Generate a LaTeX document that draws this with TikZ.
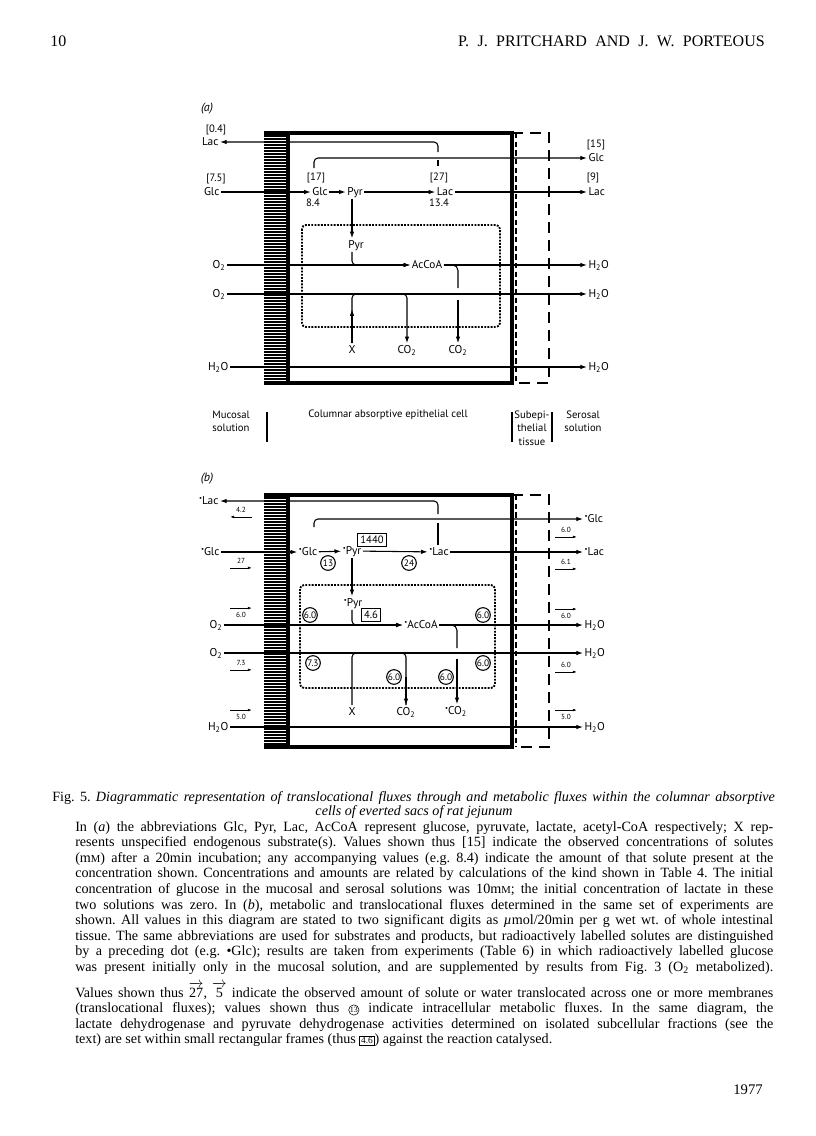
\documentclass[tikz,border=0pt]{standalone}
\usepackage{fontspec}
\usepackage{amsmath}
\setmainfont{Liberation Serif}
\newfontfamily\diafont{PT Sans}
\usetikzlibrary{arrows.meta}
\frenchspacing

\newcommand{\lbld}{\raisebox{.55ex}{\fontsize{5}{5}\selectfont\textbullet}}
\newcommand{\smM}{{\fontsize{8}{8}\selectfont M}}
\newlength{\capw}\setlength{\capw}{523.5pt}
\newcommand{\spreadline}[1]{\makebox[\capw][s]{#1}}
\newcommand{\circnum}[1]{\tikz[baseline=(cn.base)]\node[circle,draw,line width=0.4pt,inner sep=0.2pt,font=\fontsize{6}{6}\selectfont](cn){#1};}
\newcommand{\boxnum}[1]{{\fboxsep=0.8pt\fboxrule=0.5pt\fbox{\fontsize{7}{7}\selectfont #1}}}

\begin{document}
\begin{tikzpicture}[
  x=0.75pt, y=-0.75pt,
  % membranes
  memb/.style={line width=2.6pt},
  hatch/.style={line width=0.95pt},
  lamina/.style={line width=1.6pt, dash pattern=on 4pt off 2.5pt},
  serosa/.style={line width=1.9pt, dash pattern=on 8pt off 5.5pt},
  mito/.style={line width=1.4pt, densely dotted, rounded corners=3pt},
  divider/.style={line width=1.1pt},
  % labels
  lbl/.style={font=\diafont\fontsize{8.5}{9}\selectfont, inner sep=1pt,
              text height=6.2pt, text depth=1.6pt},
  conc/.style={font=\diafont\fontsize{8}{9}\selectfont, inner sep=0pt},
  pnl/.style={font=\diafont\itshape\fontsize{9}{10}\selectfont, inner sep=0pt},
  reg/.style={font=\diafont\fontsize{8}{10}\selectfont, align=center, inner sep=0pt},
  % fluxes
  flux/.style={draw, line width=0.8pt, -{Latex[length=5pt,width=3.4pt]}},
  link/.style={draw, line width=0.8pt},
  tnum/.style={font=\diafont\fontsize{5.5}{6}\selectfont, inner sep=0pt,
               minimum width=16pt},
  tflux/.style={line width=0.5pt, -{Latex[length=3pt,width=2pt]}},
  circ/.style={circle, draw, line width=0.8pt, inner sep=0pt, minimum size=11pt,
               font=\diafont\fontsize{7}{7}\selectfont},
  frm/.style={draw, line width=0.8pt, inner sep=2pt,
              font=\diafont\fontsize{8}{8}\selectfont},
  % page text
  captxt/.style={font=\fontsize{10.6}{11.7}\selectfont, inner sep=0pt, anchor=base west},
  rhead/.style={font=\fontsize{12}{14}\selectfont, inner sep=0pt},
]

\path[fill=white, use as bounding box] (0,0) rectangle (816,1136);

% ── Running head ─────────────────────────────────────────────────────────
\node[rhead, anchor=base west] (pgNo) at (50,46) {10};
\node[rhead, anchor=base east] (runHead) at (765,46)
  {\makebox[230pt][s]{P. J. PRITCHARD AND J. W. PORTEOUS}};

% ── Cell frames (a) and (b) ──────────────────────────────────────────────
\foreach \yt/\yb in {133/383, 495/747} {
  \foreach \k in {1,...,83}
    \draw[hatch] (264,{\yt+3*\k}) -- (286,{\yt+3*\k});
  \draw[memb] (264,\yt) -- (512,\yt) -- (512,\yb) -- (264,\yb);
  \draw[memb, line width=3.2pt] (288,\yt) -- (288,\yb);
  \draw[lamina] (516,\yt) -- (516,\yb);
  \draw[serosa] (512,\yt) -- (549,\yt) -- (549,\yb) -- (512,\yb);
}
\draw[mito] (302,225) rectangle (500,327);
\draw[mito] (300,585) rectangle (495,688);

% ━━━━━━━━━━━━━━━━━━━━━━━━━━━━━━━━━━━━━━━━━━━━━━━━━━━━━━━━━━━━━━━━━━━━━━━
% (a) Concentrations and amounts
% ━━━━━━━━━━━━━━━━━━━━━━━━━━━━━━━━━━━━━━━━━━━━━━━━━━━━━━━━━━━━━━━━━━━━━━━
\node[pnl] (aTag) at (207,109) {(a)};

% mucosal side
\node[conc] (aC04) at (216,130) {[0.4]};
\node[lbl, anchor=east] (aLacM) at (220,142) {Lac};
\node[conc] (aC75) at (216,179) {[7.5]};
\node[lbl, anchor=east] (aGlcM) at (221,192) {Glc};
\node[lbl, anchor=east] (aO2a) at (227,265) {O\textsubscript{2}};
\node[lbl, anchor=east] (aO2b) at (227,294) {O\textsubscript{2}};
\node[lbl, anchor=east] (aH2Oc) at (230,367) {H\textsubscript{2}O};

% cell
\node[conc] (aC17) at (316,178) {[17]};
\node[lbl] (aGlc) at (320,192) {Glc};
\node[conc] (aA84) at (313,203) {8.4};
\node[lbl] (aPyr) at (355,192) {Pyr};
\node[conc] (aC27) at (439,178) {[27]};
\node[lbl] (aLac) at (445,192) {Lac};
\node[conc] (aA134) at (439,203) {13.4};
\node[lbl] (aPyr2) at (356,245) {Pyr};
\node[lbl] (aAcCoA) at (427,265) {AcCoA};
\node[lbl] (aX) at (352,350) {X};
\node[lbl] (aCO2a) at (407,350) {CO\textsubscript{2}};
\node[lbl] (aCO2b) at (458,350) {CO\textsubscript{2}};

% serosal side
\node[conc] (aC15) at (596,145) {[15]};
\node[lbl, anchor=west] (aGlcS) at (587,158) {Glc};
\node[conc] (aC9) at (593,178) {[9]};
\node[lbl, anchor=west] (aLacS) at (587,192) {Lac};
\node[lbl, anchor=west] (aH2Oa) at (587,265) {H\textsubscript{2}O};
\node[lbl, anchor=west] (aH2Ob) at (587,294) {H\textsubscript{2}O};
\node[lbl, anchor=west] (aH2Od) at (587,367) {H\textsubscript{2}O};

% fluxes
\coordinate (aLacUp) at (438,152);
\coordinate (aTick)  at (438,160);
\coordinate (aGlcUp) at (314,168);
\coordinate (aGapT)  at (458,288);
\coordinate (aGapB)  at (458,300);
\draw[flux, rounded corners=3pt] (aLacUp) |- (aLacM);
\draw[link] (aTick) -- ++(0,6);
\draw[flux, rounded corners=3pt] (aGlcUp) |- (aGlcS);
\draw[flux] (aGlcM) -- (aGlc);
\draw[flux] (aGlc) -- (aPyr);
\draw[flux] (aPyr) -- (aLac);
\draw[flux] (aLac) -- (aLacS);
\draw[flux] (aX |- aPyr.south) -- (aX |- aPyr2.north);
\draw[flux, rounded corners=3pt] (aX |- aPyr2.south) |- (aAcCoA);
\draw[flux] (aO2a) -- (aAcCoA);
\draw[flux] (aAcCoA) -- (aH2Oa);
\draw[link, rounded corners=4pt] (aAcCoA.east) -| (aGapT);
\draw[flux] (aGapB) -- (aCO2b);
\draw[flux] (aO2b) -- (aH2Ob);
\draw[flux, rounded corners=3pt] (aX) |- (aCO2a |- aO2b) -- (aCO2a);
\draw[flux] (aX.north) -- ++(0,-34);
\draw[flux] (aH2Oc) -- (aH2Od);

% compartments
\node[reg] (aMuc) at (231,421) {Mucosal\\solution};
\node[reg] (aCol) at (388,415) {Columnar absorptive epithelial cell};
\node[reg] (aSub) at (532,428) {Subepi-\\thelial\\tissue};
\node[reg] (aSer) at (583,421) {Serosal\\solution};
\draw[divider] (267,412) -- (267,442);
\draw[divider] (512,412) -- (512,442);
\draw[divider] (552,412) -- (552,442);

% ━━━━━━━━━━━━━━━━━━━━━━━━━━━━━━━━━━━━━━━━━━━━━━━━━━━━━━━━━━━━━━━━━━━━━━━
% (b) Metabolic and translocational fluxes
% ━━━━━━━━━━━━━━━━━━━━━━━━━━━━━━━━━━━━━━━━━━━━━━━━━━━━━━━━━━━━━━━━━━━━━━━
\node[pnl] (bTag) at (207,479) {(b)};

% mucosal side
\node[lbl, anchor=east] (bLacM) at (220,501) {\lbld Lac};
\node[tnum] (bT42) at (241,510) {4.2};
\node[lbl, anchor=east] (bGlcM) at (221,552) {\lbld Glc};
\node[tnum] (bT27) at (241,561) {27};
\node[tnum] (bT60a) at (241,615) {6.0};
\node[lbl, anchor=east] (bO2a) at (224,625) {O\textsubscript{2}};
\node[lbl, anchor=east] (bO2b) at (224,653) {O\textsubscript{2}};
\node[tnum] (bT73) at (241,663) {7.3};
\node[tnum] (bT50a) at (241,717) {5.0};
\node[lbl, anchor=east] (bH2Oc) at (230,727) {H\textsubscript{2}O};

% cell
\node[lbl] (bGlc) at (308,552) {\lbld Glc};
\node[lbl] (bPyr) at (352,551) {\lbld Pyr};
\node[frm] (bF1440) at (372,540) {1440};
\node[circ] (bM13) at (328,563) {13};
\node[lbl] (bLac) at (439,552) {\lbld Lac};
\node[circ] (bM24) at (409,563) {24};
\node[lbl] (bPyr2) at (353,603) {\lbld Pyr};
\node[frm] (bF46) at (371,615) {4.6};
\node[circ] (bM60a) at (310,615) {6.0};
\node[circ] (bM60b) at (483,615) {6.0};
\node[lbl] (bAcCoA) at (421,625) {\lbld AcCoA};
\node[circ] (bM73) at (313,663) {7.3};
\node[circ] (bM60c) at (483,663) {6.0};
\node[circ] (bM60d) at (394,677) {6.0};
\node[circ] (bM60e) at (446,677) {6.0};
\node[lbl] (bX) at (352,712) {X};
\node[lbl] (bCO2a) at (406,712) {CO\textsubscript{2}};
\node[lbl] (bCO2b) at (456,711) {\lbld CO\textsubscript{2}};

% serosal side
\node[lbl, anchor=west] (bGlcS) at (583,519) {\lbld Glc};
\node[tnum] (bT60b) at (566,530) {6.0};
\node[lbl, anchor=west] (bLacS) at (583,552) {\lbld Lac};
\node[tnum] (bT61) at (566,562) {6.1};
\node[tnum] (bT60c) at (566,616) {6.0};
\node[lbl, anchor=west] (bH2Oa) at (583,625) {H\textsubscript{2}O};
\node[lbl, anchor=west] (bH2Ob) at (583,653) {H\textsubscript{2}O};
\node[tnum] (bT60d) at (566,665) {6.0};
\node[tnum] (bT50b) at (566,717) {5.0};
\node[lbl, anchor=west] (bH2Od) at (583,727) {H\textsubscript{2}O};

% translocation marks
\draw[tflux] ([yshift=-3pt]bT42.south east) -- ([yshift=-3pt]bT42.south west);
\draw[tflux] ([yshift=-3pt]bT27.south west) -- ([yshift=-3pt]bT27.south east);
\draw[tflux] ([yshift=3pt]bT60a.north west) -- ([yshift=3pt]bT60a.north east);
\draw[tflux] ([yshift=-3pt]bT73.south west) -- ([yshift=-3pt]bT73.south east);
\draw[tflux] ([yshift=3pt]bT50a.north west) -- ([yshift=3pt]bT50a.north east);
\draw[tflux] ([yshift=-3pt]bT60b.south west) -- ([yshift=-3pt]bT60b.south east);
\draw[tflux] ([yshift=-3pt]bT61.south west) -- ([yshift=-3pt]bT61.south east);
\draw[tflux] ([yshift=3pt]bT60c.north west) -- ([yshift=3pt]bT60c.north east);
\draw[tflux] ([yshift=-3pt]bT60d.south west) -- ([yshift=-3pt]bT60d.south east);
\draw[tflux] ([yshift=3pt]bT50b.north west) -- ([yshift=3pt]bT50b.north east);

% fluxes
\coordinate (bLacUp) at (438,514);
\coordinate (bTick)  at (438,523);
\coordinate (bGlcUp) at (314,527);
\coordinate (bGapT)  at (457,648);
\coordinate (bGapB)  at (457,659);
\draw[flux, rounded corners=3pt] (bLacUp) |- (bLacM);
\draw[link] (bTick) -- (bTick |- bLac.north);
\draw[flux, rounded corners=3pt] (bGlcUp) |- (bGlcS);
\draw[flux] (bGlcM) -- (bGlc);
\draw[flux] (bGlc) -- (bPyr);
\draw[flux] (bPyr) -- (bLac);
\draw[flux] (bLac) -- (bLacS);
\draw[flux] (bX |- bPyr.south) -- (bX |- bPyr2.north);
\draw[flux, rounded corners=3pt] (bX |- bPyr2.south) |- (bAcCoA);
\draw[flux] (bO2a) -- (bAcCoA);
\draw[flux] (bAcCoA) -- (bH2Oa);
\draw[link, rounded corners=4pt] (bAcCoA.east) -| (bGapT);
\draw[flux] (bGapB) -- (bCO2b.north -| bGapB);
\draw[flux] (bO2b) -- (bH2Ob);
\draw[link, rounded corners=3pt] (bX) |- (bCO2a |- bO2b) -- (bCO2a);
\draw[flux] (bCO2a |- bM60d) -- (bCO2a);
\draw[flux] (bH2Oc) -- (bH2Od);

% ── Caption ──────────────────────────────────────────────────────────────
\node[captxt] (capT1) at (52,801) {\makebox[542pt][s]{Fig. 5. \textit{Diagrammatic
  representation of translocational fluxes through and metabolic fluxes within the
  columnar absorptive}}};
\node[captxt, anchor=base] (capT2) at (414,815) {\textit{cells of everted sacs of rat jejunum}};

\node[captxt] (capL1) at (75,831) {\spreadline{In (\textit{a}) the abbreviations Glc,
  Pyr, Lac, AcCoA represent glucose, pyruvate, lactate, acetyl-CoA respectively; X rep-}};
\node[captxt] (capL2) at (75,846.6) {\spreadline{resents unspecified endogenous
  substrate(s). Values shown thus [15] indicate the observed concentrations of solutes}};
\node[captxt] (capL3) at (75,862.2) {\spreadline{(m\smM) after a 20min incubation; any
  accompanying values (e.g. 8.4) indicate the amount of that solute present at the}};
\node[captxt] (capL4) at (75,877.8) {\spreadline{concentration shown. Concentrations and
  amounts are related by calculations of the kind shown in Table 4. The initial}};
\node[captxt] (capL5) at (75,893.4) {\spreadline{concentration of glucose in the mucosal
  and serosal solutions was 10m\smM; the initial concentration of lactate in these}};
\node[captxt] (capL6) at (75,909) {\spreadline{two solutions was zero. In (\textit{b}),
  metabolic and translocational fluxes determined in the same set of experiments are}};
\node[captxt] (capL7) at (75,924.6) {\spreadline{shown. All values in this diagram are
  stated to two significant digits as \textit{µ}mol/20min per g wet wt. of whole intestinal}};
\node[captxt] (capL8) at (75,940.2) {\spreadline{tissue. The same abbreviations are used for
  substrates and products, but radioactively labelled solutes are distinguished}};
\node[captxt] (capL9) at (75,955.8) {\spreadline{by a preceding dot (e.g. \textbullet Glc);
  results are taken from experiments (Table 6) in which radioactively labelled glucose}};
\node[captxt] (capL10) at (75,971.4) {\spreadline{was present initially only in the mucosal
  solution, and are supplemented by results from Fig. 3 (O\textsubscript{2} metabolized).}};

\node[captxt] (capL11) at (75,997) {\spreadline{Values shown thus
  $\overrightarrow{\hbox{27}}$, $\overrightarrow{\hbox{5}}$ indicate the observed amount
  of solute or water translocated across one or more membranes}};
\node[captxt] (capL12) at (75,1012.6) {\spreadline{(translocational fluxes); values shown
  thus \circnum{13} indicate intracellular metabolic fluxes. In the same diagram, the}};
\node[captxt] (capL13) at (75,1028.2) {\spreadline{lactate dehydrogenase and pyruvate
  dehydrogenase activities determined on isolated subcellular fractions (see the}};
\node[captxt] (capL14) at (75,1043.8) {text) are set within small rectangular frames
  (thus \boxnum{4.6}) against the reaction catalysed.};

\node[rhead, anchor=base east, font=\fontsize{11}{13}\selectfont] (pgYear) at (763,1094) {1977};

\end{tikzpicture}
\end{document}
